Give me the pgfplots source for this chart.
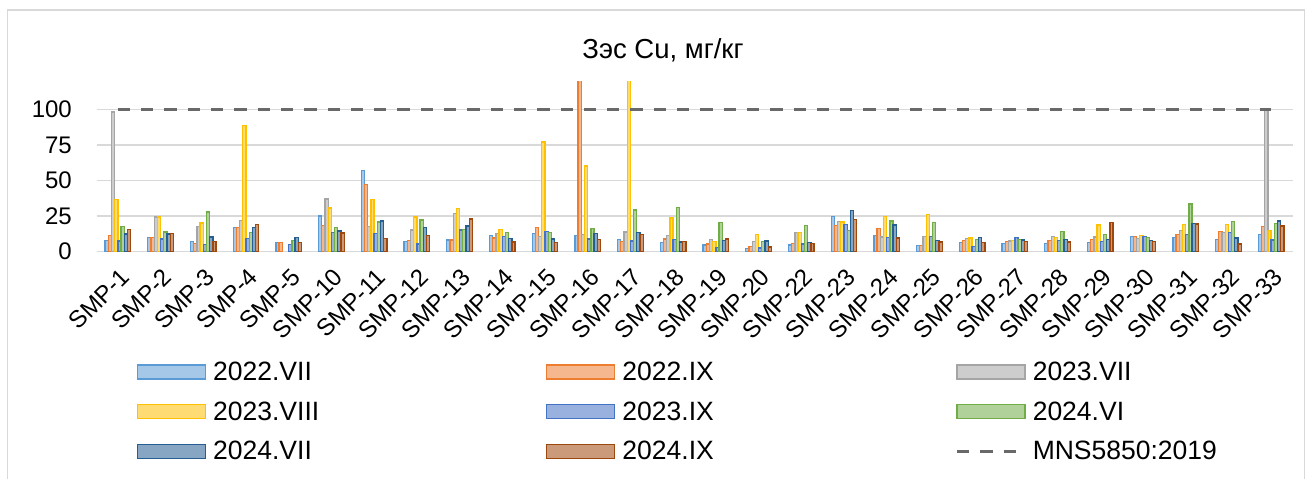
\documentclass[border=0pt]{standalone}
\usepackage{fontspec}
\setmainfont{Liberation Sans}
\usepackage{pgfplots}
\usepackage{pgfplotstable}
\pgfplotsset{compat=1.18}

\definecolor{c1}{HTML}{5B9BD5}
\definecolor{c2}{HTML}{ED7D31}
\definecolor{c3}{HTML}{A5A5A5}
\definecolor{c4}{HTML}{FFC000}
\definecolor{c5}{HTML}{4472C4}
\definecolor{c6}{HTML}{70AD47}
\definecolor{c7}{HTML}{255E91}
\definecolor{c8}{HTML}{9E480E}
\definecolor{gridc}{HTML}{D9D9D9}
\definecolor{normc}{HTML}{696969}

\pgfplotsset{
  barleg/.style={legend image code/.code={\draw[##1] (0bp,-7bp) rectangle (68bp,7bp);}},
  lineleg/.style={legend image code/.code={\draw[##1] (0bp,0bp) -- (60bp,0bp);}},
}

% Cu, mg/kg per station; columns: 2022.VII 2022.IX 2023.VII 2023.VIII 2023.IX 2024.VI 2024.VII 2024.IX
\pgfplotstableread{
x  a    b    c    d    e    f    g    h
0  8    11.4 98.4 37   7.5  17.5 12.4 15.4
1  10   10   24.5 24.5 9    13.8 12.4 12.6
2  7.2  5.8  17.8 20.3 5.1  28   10.3 7
3  17   17   22   88.8 9.1  13.6 16.8 19.2
4  6.5  6.5  nan  nan  5.1  7.7  10   6.5
5  25.2 18.5 37.1 30.8 13.6 16.8 14.5 13.1
6  57   47.4 17.5 37   12.9 21   21.7 9.3
7  7.2  8    15.2 24.5 5.4  22.4 16.8 11.2
8  8.2  8.2  26.9 30.6 15.2 15.4 18.2 23.1
9  11.4 9.6  12.9 15.4 10.7 13.6 9.1  6.8
10 12.9 16.8 10.7 77.3 14.3 13.3 8.9  6.3
11 11.2 130  11.9 60.3 8.9  16.4 12.6 8.6
12 8.6  7.2  13.8 130  7.5  29.4 13.3 12.1
13 6.3  8.9  11.4 23.8 8.4  31.3 6.8  7.2
14 4.7  5.4  8.4  7    3    20.6 7.7  8.9
15 2.3  3.5  7    12.1 2.6  7    7.5  3.3
16 4.7  5.8  13.3 13.3 5.4  18.5 6.3  5.6
17 25   18.5 21.5 21   19.2 14.7 29   22.7
18 11.2 16.1 10.3 24.8 10   21.7 18.9 9.6
19 4.2  4.2  10.5 26.2 10.7 20.8 7.9  6.8
20 6.5  7.9  9.3  9.6  3.7  8.6  9.8  6.3
21 5.8  7.2  7.5  7.9  10   8.4  8.2  7
22 5.6  7.7  10.7 9.8  7.9  14   8.6  6.8
23 6.3  8.4  10.3 18.7 7    12.1 8.6  20.6
24 10.7 10.7 9.3  11.2 10.7 10   7.7  7
25 9.8  11.9 14.7 19.2 11.9 33.6 19.9 19.6
26 8.6  14.3 13.3 19.4 13.3 21.5 9.6  5.4
27 11.9 17.8 100  15   8.2  19.9 21.7 18.2
}\cudata

\pgfplotstableread{
x  y
0  100
27 100
}\normdata

\newcommand{\lbl}[1]{\makebox[333bp][l]{#1}}

\begin{document}
\begin{tikzpicture}
\path (0,0) rectangle (1309bp,479bp);
\draw[gridc, line width=1.3bp] (7.5bp,0bp) -- (7.5bp,469bp) -- (1304.5bp,469bp) -- (1304.5bp,0bp);
\node[anchor=base, font=\fontsize{27.5bp}{31bp}\selectfont] at (663bp,420.7bp) {Зэс Cu, мг/кг};
\begin{axis}[
    at={(96.5bp,227.3bp)}, anchor=south west,
    scale only axis, width=1196bp, height=170.4bp,
    ybar=0pt, bar width=3.2bp,
    xmin=-0.5, xmax=27.5, ymin=0, ymax=120,
    xtick={0,...,27},
    xticklabels={SMP-1,SMP-2,SMP-3,SMP-4,SMP-5,SMP-10,SMP-11,SMP-12,SMP-13,SMP-14,SMP-15,SMP-16,SMP-17,SMP-18,SMP-19,SMP-20,SMP-22,SMP-23,SMP-24,SMP-25,SMP-26,SMP-27,SMP-28,SMP-29,SMP-30,SMP-31,SMP-32,SMP-33},
    ytick={0,25,50,75,100},
    axis line style={draw=none},
    tick style={draw=none}, major tick length=0pt,
    ymajorgrids, grid style={gridc, line width=1.5bp},
    /pgf/number format/assume math mode=true,
    xticklabel shift=15bp, yticklabel shift=24.5bp,
    xticklabel style={xshift=1bp, rotate=45, anchor=north east, inner sep=0pt,
        font=\fontsize{24bp}{28bp}\selectfont},
    yticklabel style={anchor=east, inner sep=0pt,
        font=\fontsize{24bp}{28bp}\selectfont},
    legend columns=3, legend cell align=left,
    legend style={at={(0.0311,-0.6338)}, anchor=north west, draw=none, fill=none,
        font=\fontsize{26.5bp}{30bp}\selectfont, nodes={inner sep=0pt},
        /tikz/every odd column/.append style={column sep=7bp},
        row sep=19.7bp},
    every axis plot/.append style={line width=1.3bp},
]
\addplot[draw=c1, fill=c1!55!white, barleg] table[x=x, y=a] {\cudata};
\addplot[draw=c2, fill=c2!55!white, barleg] table[x=x, y=b] {\cudata};
\addplot[draw=c3, fill=c3!55!white, barleg] table[x=x, y=c] {\cudata};
\addplot[draw=c4, fill=c4!55!white, barleg] table[x=x, y=d] {\cudata};
\addplot[draw=c5, fill=c5!55!white, barleg] table[x=x, y=e] {\cudata};
\addplot[draw=c6, fill=c6!55!white, barleg] table[x=x, y=f] {\cudata};
\addplot[draw=c7, fill=c7!55!white, barleg] table[x=x, y=g] {\cudata};
\addplot[draw=c8, fill=c8!55!white, barleg] table[x=x, y=h] {\cudata};
\addplot[sharp plot, no marks, normc, line width=3.3bp, dash pattern=on 12.3bp off 11bp,
    lineleg] table[x=x, y=y] {\normdata};
\legend{\lbl{2022.VII},\lbl{2022.IX},2023.VII,\lbl{2023.VIII},\lbl{2023.IX},2024.VI,\lbl{2024.VII},\lbl{2024.IX},MNS5850:2019}
\end{axis}
\end{tikzpicture}
\end{document}
